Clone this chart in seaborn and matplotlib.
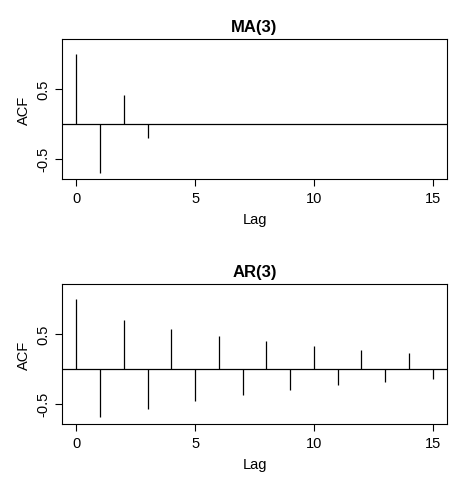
import matplotlib
matplotlib.use("Agg")
import matplotlib.pyplot as plt
import seaborn as sns
import numpy as np

lags = list(range(16))
ma3_lags = [0, 1, 2, 3]
ma3_acf = [1.0, -0.71, 0.41, -0.20]
ar3_acf = [1.0, -0.69, 0.69, -0.57, 0.57, -0.46, 0.47, -0.37, 0.40, -0.30, 0.33, -0.23, 0.27, -0.19, 0.23, -0.14]
titles = ["MA(3)", "AR(3)"]
yticks = [-0.5, 0.5]
xticks = [0, 5, 10, 15]

sns.set_style("ticks")
plt.rcParams['font.family'] = ['Liberation Sans', 'DejaVu Sans']
plt.rcParams['text.color'] = 'black'
plt.rcParams['axes.labelcolor'] = 'black'

fig = plt.figure(figsize=(4.69, 4.85), dpi=100)
W, H = 469, 485
boxes = [(62, 40, 447, 180), (62, 285, 447, 425)]
data = [(ma3_lags, ma3_acf), (lags, ar3_acf)]
for (x0, y0, x1, y1), (lx, ly), t in zip(boxes, data, titles):
    ax = fig.add_axes([x0 / W, 1 - y1 / H, (x1 - x0) / W, (y1 - y0) / H])
    ax.vlines(lx, 0, ly, color="black", lw=0.9)
    ax.axhline(0, color="black", lw=0.9)
    ax.set_xlim(-0.6, 15.6)
    ax.set_ylim(-0.79, 1.21)
    ax.set_xticks(xticks)
    ax.set_yticks(yticks)
    ax.set_yticklabels(["-0.5", "0.5"], rotation=90, va="center")
    ax.tick_params(labelsize=10.5, length=5, width=0.8, colors="black")
    for s in ax.spines.values():
        s.set_color("black"); s.set_linewidth(0.8)
    ax.set_xlabel("Lag", fontsize=10.5, labelpad=5, color="black")
    ax.set_ylabel("ACF", fontsize=10.5, labelpad=4, color="black")
    ax.set_title(t, fontsize=12, fontweight="bold", pad=6, color="black")

fig.savefig("out.png", dpi=100)
